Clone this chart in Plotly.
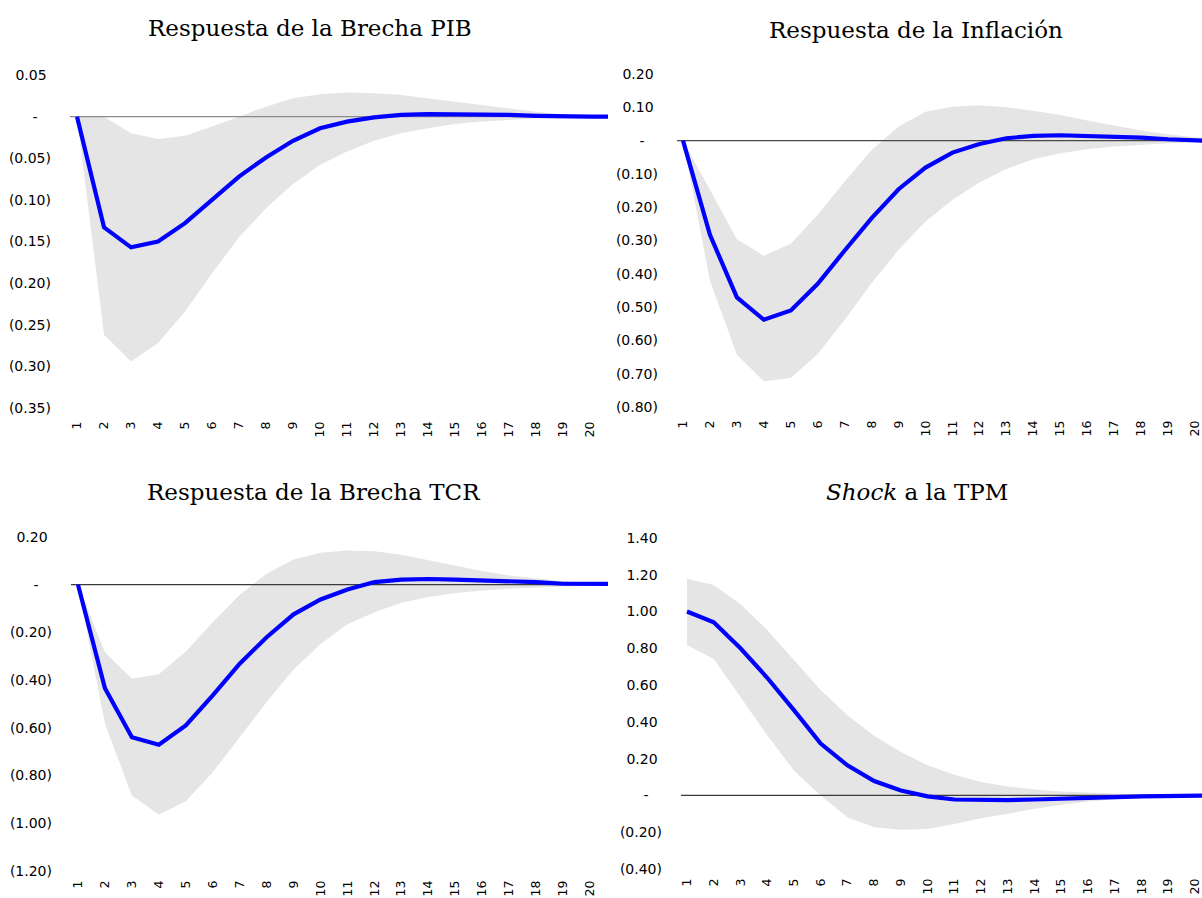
import plotly.graph_objects as go

W, H = 1202, 898

# ---------------- data ----------------
periods = list(range(1, 22))          # horizon (the 21st point is only partly visible at the panel edge)
tick_periods = list(range(1, 21))     # labelled periods

pib_mean = [0, -0.133, -0.157, -0.150, -0.128, -0.100, -0.072, -0.049, -0.029, -0.014, -0.006,
            -0.001, 0.002, 0.003, 0.003, 0.002, 0.002, 0.001, 0.000, 0.000, 0.000]
pib_upper = [0, 0.000, -0.020, -0.027, -0.023, -0.012, 0.000, 0.012, 0.022, 0.027, 0.029,
             0.028, 0.026, 0.022, 0.018, 0.014, 0.010, 0.006, 0.003, 0.002, 0.001]
pib_lower = [0, -0.262, -0.294, -0.272, -0.234, -0.188, -0.145, -0.110, -0.081, -0.058, -0.042,
             -0.029, -0.020, -0.014, -0.009, -0.006, -0.004, -0.002, -0.001, -0.001, -0.0005]

inf_mean = [0, -0.283, -0.471, -0.538, -0.510, -0.430, -0.330, -0.233, -0.146, -0.081, -0.036,
            -0.010, 0.007, 0.014, 0.016, 0.014, 0.010, 0.009, 0.004, 0.000, -0.002]
inf_upper = [0, -0.146, -0.296, -0.346, -0.310, -0.223, -0.123, -0.028, 0.042, 0.087, 0.102,
             0.106, 0.100, 0.090, 0.077, 0.060, 0.044, 0.030, 0.019, 0.010, 0.007]
inf_lower = [0, -0.420, -0.643, -0.723, -0.713, -0.641, -0.538, -0.428, -0.328, -0.243, -0.178,
             -0.126, -0.085, -0.056, -0.038, -0.026, -0.018, -0.012, -0.008, -0.005, -0.004]

tcr_mean = [0, -0.434, -0.639, -0.671, -0.590, -0.464, -0.331, -0.220, -0.124, -0.062, -0.020,
            0.011, 0.021, 0.024, 0.021, 0.018, 0.014, 0.011, 0.004, 0.004, 0.003]
tcr_upper = [0, -0.283, -0.394, -0.375, -0.280, -0.157, -0.042, 0.046, 0.106, 0.134, 0.143,
             0.140, 0.126, 0.102, 0.078, 0.057, 0.039, 0.025, 0.014, 0.008, 0.006]
tcr_lower = [0, -0.583, -0.884, -0.964, -0.908, -0.786, -0.639, -0.492, -0.355, -0.248, -0.166,
             -0.115, -0.076, -0.052, -0.035, -0.024, -0.017, -0.011, -0.007, -0.004, -0.003]

tpm_mean = [1.000, 0.942, 0.800, 0.640, 0.464, 0.282, 0.164, 0.078, 0.027, -0.005, -0.022,
            -0.025, -0.025, -0.022, -0.016, -0.013, -0.009, -0.005, -0.004, 0.000, 0.001]
tpm_upper = [1.178, 1.145, 1.040, 0.900, 0.736, 0.573, 0.436, 0.324, 0.236, 0.164, 0.113,
             0.073, 0.049, 0.033, 0.022, 0.015, 0.009, 0.005, 0.004, 0.002, 0.002]
tpm_lower = [0.818, 0.742, 0.536, 0.327, 0.136, 0.000, -0.118, -0.173, -0.187, -0.182, -0.155,
             -0.124, -0.100, -0.073, -0.051, -0.033, -0.022, -0.013, -0.007, -0.004, -0.002]

titles = ["Respuesta de la Brecha PIB", "Respuesta de la Inflación",
          "Respuesta de la Brecha TCR", "<i>Shock</i> a la TPM"]

pib_ticks = [0.05, 0, -0.05, -0.10, -0.15, -0.20, -0.25, -0.30, -0.35]
inf_ticks = [0.20, 0.10, 0, -0.10, -0.20, -0.30, -0.40, -0.50, -0.60, -0.70, -0.80]
tcr_ticks = [0.20, 0, -0.20, -0.40, -0.60, -0.80, -1.00, -1.20]
tpm_ticks = [1.40, 1.20, 1.00, 0.80, 0.60, 0.40, 0.20, 0, -0.20, -0.40]

# ---------------- styling / layout ----------------
BLUE = "#0000FF"
BAND = "#E5E5E5"
TICK_FONT = "DejaVu Sans"
TITLE_FONT = "DejaVu Serif"


def acc(v):
    if abs(v) < 1e-12:
        return "-\u2007\u2008"
    if v > 0:
        return f"{v:.2f}\u2008"
    return f"({abs(v):.2f})"


def px_x(p):
    return p / W


def px_y(p):
    return 1 - p / H


panels = [
    dict(mean=pib_mean, up=pib_upper, lo=pib_lower, ticks=pib_ticks,
         box=(70, 608, 75, 408), xr=[0.74, 20.667], yr=[-0.35, 0.05], zc="#8a8a8a",
         title_xy=(310, 28), xstand=10),
    dict(mean=inf_mean, up=inf_upper, lo=inf_lower, ticks=inf_ticks,
         box=(677, 1202, 74, 407), xr=[0.777, 20.26], yr=[-0.80, 0.20], zc="#4a4a4a",
         title_xy=(916, 30), xstand=10),
    dict(mean=tcr_mean, up=tcr_upper, lo=tcr_lower, ticks=tcr_ticks,
         box=(71, 608, 537, 871), xr=[0.74, 20.667], yr=[-1.20, 0.20], zc="#3a3a3a",
         title_xy=(313, 492), xstand=6),
    dict(mean=tpm_mean, up=tpm_upper, lo=tpm_lower, ticks=tpm_ticks,
         box=(681, 1202, 538, 869), xr=[0.776, 20.262], yr=[-0.40, 1.40], zc="#3a3a3a",
         title_xy=(917, 492), xstand=6),
]

fig = go.Figure()
layout = dict(width=W, height=H, autosize=False,
              margin=dict(l=0, r=0, t=0, b=0, pad=0, autoexpand=False),
              paper_bgcolor="white", plot_bgcolor="white", showlegend=False)
annotations = []

for i, p in enumerate(panels, start=1):
    xa = "x" if i == 1 else f"x{i}"
    ya = "y" if i == 1 else f"y{i}"
    fig.add_trace(go.Scatter(x=periods, y=p["lo"], mode="lines", line=dict(width=0, color=BAND),
                             hoverinfo="skip", xaxis=xa, yaxis=ya))
    fig.add_trace(go.Scatter(x=periods, y=p["up"], mode="lines", line=dict(width=0, color=BAND),
                             fill="tonexty", fillcolor=BAND, hoverinfo="skip", xaxis=xa, yaxis=ya))
    fig.add_trace(go.Scatter(x=p["xr"], y=[0, 0], mode="lines", line=dict(width=1.2, color=p["zc"]),
                             hoverinfo="skip", xaxis=xa, yaxis=ya))
    fig.add_trace(go.Scatter(x=periods, y=p["mean"], mode="lines", line=dict(width=4.2, color=BLUE),
                             xaxis=xa, yaxis=ya))

    xl, xr_, yt, yb = p["box"]
    xkey = "xaxis" if i == 1 else f"xaxis{i}"
    ykey = "yaxis" if i == 1 else f"yaxis{i}"
    layout[xkey] = dict(domain=[px_x(xl), px_x(xr_)], range=p["xr"], anchor=ya,
                        automargin=False, ticklabeloverflow="allow",
                        showgrid=False, zeroline=False, showline=False, ticks="",
                        tickmode="array", tickvals=tick_periods,
                        ticktext=[str(t) for t in tick_periods], tickangle=-90,
                        tickfont=dict(family=TICK_FONT, size=12.5, color="#000"),
                        ticklabelstandoff=p["xstand"])
    layout[ykey] = dict(domain=[px_y(yb), px_y(yt)], range=p["yr"], anchor=xa,
                        automargin=False,
                        showgrid=False, zeroline=False, showline=False, ticks="",
                        tickmode="array", tickvals=p["ticks"],
                        ticktext=[acc(v) for v in p["ticks"]],
                        tickfont=dict(family=TICK_FONT, size=14, color="#000"),
                        ticklabelstandoff=18)
    tx, ty = p["title_xy"]
    annotations.append(dict(text=titles[i - 1], xref="paper", yref="paper",
                            x=px_x(tx), y=px_y(ty), xanchor="center", yanchor="middle",
                            showarrow=False,
                            font=dict(family=TITLE_FONT, size=23, color="#000")))

layout["annotations"] = annotations
fig.update_layout(**layout)
fig.write_html("out.html",
               config={"displayModeBar": False, "responsive": False},
               post_script="document.body.style.margin='0';document.body.style.overflow='hidden';")
